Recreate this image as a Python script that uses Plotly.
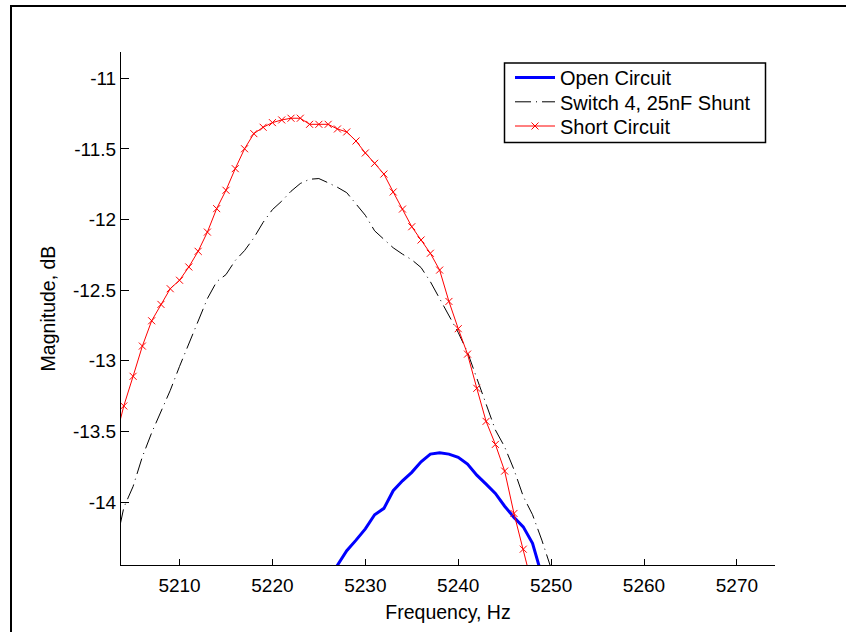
import plotly.graph_objects as go

# Frequency grid (Hz)
freq_open = list(range(5226, 5250))
open_circuit = [-14.55, -14.45, -14.345, -14.27, -14.19, -14.09, -14.045, -13.92, -13.85, -13.79,
                -13.715, -13.661, -13.652, -13.661, -13.684, -13.732, -13.81, -13.873, -13.939,
                -14.03, -14.109, -14.176, -14.293, -14.52]

freq_switch = list(range(5203, 5251))
switch4 = [-14.35, -14.04, -13.89, -13.68, -13.51, -13.36, -13.21, -13.04, -12.88, -12.72,
           -12.56, -12.44, -12.39, -12.29, -12.22, -12.13, -12.02, -11.93, -11.87, -11.80,
           -11.745, -11.715, -11.71, -11.74, -11.772, -11.81, -11.89, -11.97, -12.08, -12.14,
           -12.20, -12.245, -12.285, -12.34, -12.44, -12.56, -12.68, -12.80, -12.94, -13.12,
           -13.31, -13.49, -13.61, -13.77, -13.96, -14.09, -14.27, -14.47]

freq_short = list(range(5203, 5249))
short_circuit = [-13.58, -13.32, -13.11, -12.896, -12.717, -12.601, -12.49, -12.43, -12.336,
                 -12.225, -12.089, -11.923, -11.793, -11.64, -11.499, -11.392, -11.347, -11.314,
                 -11.295, -11.283, -11.283, -11.326, -11.326, -11.326, -11.359, -11.38, -11.444,
                 -11.529, -11.602, -11.678, -11.805, -11.926, -12.051, -12.145, -12.239, -12.358,
                 -12.58, -12.773, -12.953, -13.195, -13.429, -13.592, -13.781, -14.081, -14.334,
                 -14.6]

series_names = ["Open Circuit", "Switch 4, 25nF Shunt", "Short Circuit"]
x_ticks = [5210, 5220, 5230, 5240, 5250, 5260, 5270]
y_ticks = [-14, -13.5, -13, -12.5, -12, -11.5, -11]
y_ticktext = ["-14", "-13.5", "-13", "-12.5", "-12", "-11.5", "-11"]

FONT = "Arial, Liberation Sans, sans-serif"

# plot area geometry in pixels
L, R, T, B = 121, 775, 52, 565
W, H = R - L, B - T

def px_x(p):
    return (p - L) / W

def px_y(p):
    return (B - p) / H

fig = go.Figure()
fig.add_trace(go.Scatter(x=freq_open, y=open_circuit, mode="lines", name=series_names[0],
                         line=dict(color="#0000ff", width=3), legend="legend"))
fig.add_trace(go.Scatter(x=freq_switch, y=switch4, mode="lines", name=series_names[1],
                         line=dict(color="black", width=1, dash="16px,5px,1px,5px"),
                         legend="legend2"))
fig.add_trace(go.Scatter(x=freq_short, y=short_circuit, mode="lines+markers", name=series_names[2],
                         line=dict(color="#ff0000", width=1),
                         marker=dict(symbol="x-thin", size=7, color="#ff0000",
                                     line=dict(color="#ff0000", width=1)),
                         legend="legend3"))

leg_common = dict(xanchor="left", yanchor="middle", bgcolor="rgba(0,0,0,0)",
                  borderwidth=0, font=dict(family=FONT, size=20, color="black"),
                  itemwidth=40)
leg_x = px_x(510)
row_y = [77.5, 101.8, 126]

fig.update_layout(
    width=846, height=632,
    margin=dict(l=L, r=846 - R, t=T, b=632 - B),
    paper_bgcolor="white", plot_bgcolor="white",
    font=dict(family=FONT, size=19, color="black"),
    showlegend=True,
    legend=dict(x=leg_x, y=px_y(row_y[0]), **leg_common),
    legend2=dict(x=leg_x, y=px_y(row_y[1]), **leg_common),
    legend3=dict(x=leg_x, y=px_y(row_y[2]), **leg_common),
    xaxis=dict(range=[5203.7, 5274.1], tickvals=x_ticks, ticks="inside", ticklen=6,
               tickcolor="black", showline=True, linecolor="black", linewidth=1,
               showgrid=False, zeroline=False, mirror=False, ticklabelstandoff=3,
               title=dict(text="Frequency, Hz", font=dict(family=FONT, size=19.5), standoff=10)),
    yaxis=dict(range=[-14.446, -10.814], tickvals=y_ticks, ticktext=y_ticktext,
               ticks="inside", ticklen=8, tickcolor="black", showline=True,
               linecolor="black", linewidth=1, showgrid=False, zeroline=False, mirror=False,
               title=dict(text="Magnitude, dB", font=dict(family=FONT, size=19.5), standoff=12)),
    shapes=[
        # outer figure frame
        dict(type="rect", xref="paper", yref="paper",
             x0=px_x(11), x1=px_x(860), y0=px_y(650), y1=px_y(6),
             line=dict(color="black", width=2), fillcolor="rgba(0,0,0,0)", layer="below"),
        # legend box
        dict(type="rect", xref="paper", yref="paper",
             x0=px_x(504.5), x1=px_x(765.5), y0=px_y(142.5), y1=px_y(63),
             line=dict(color="black", width=1.5), fillcolor="white", layer="above"),
    ],
)

fig.write_html("out.html")
